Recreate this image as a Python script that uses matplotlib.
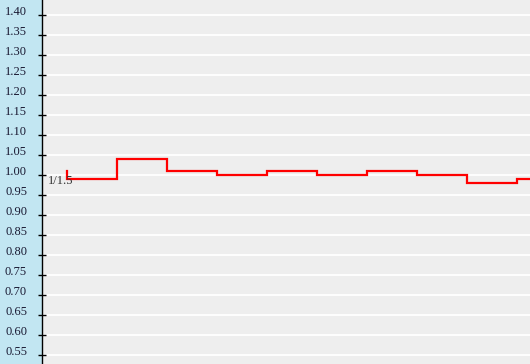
import matplotlib
matplotlib.use("Agg")
from matplotlib import pyplot as plt

# step values per period (first value is the starting level)
periods = [0, 1, 2, 3, 4, 5, 6, 7, 8, 9, 10]
ratios = [1.01, 0.99, 1.04, 1.01, 1.00, 1.01, 1.00, 1.01, 1.00, 0.98, 0.99]
ticks = [0.55, 0.60, 0.65, 0.70, 0.75, 0.80, 0.85, 0.90, 0.95, 1.00,
         1.05, 1.10, 1.15, 1.20, 1.25, 1.30, 1.35, 1.40]
label = "1/1.5"

W, H = 530, 364
fig = plt.figure(figsize=(W / 100, H / 100), dpi=100)
fig.patch.set_facecolor("#c2e6f2")

left = 41.5 / W
ax = fig.add_axes([left, 0, 1 - left, 1])
ax.set_facecolor("#eeeeee")

ax.plot(periods, ratios, drawstyle="steps-pre", color="red", linewidth=1.6,
        solid_joinstyle="miter", zorder=3)

ax.set_xlim(-0.51, 9.26)
ax.set_ylim(0.5283, 1.438)
ax.set_yticks(ticks)
ax.set_yticklabels(["%.2f" % t for t in ticks])
ax.set_xticks([])

for s in ["top", "right", "bottom"]:
    ax.spines[s].set_visible(False)
ax.spines["left"].set_color("black")
ax.spines["left"].set_linewidth(1.0)

ax.tick_params(axis="y", direction="inout", length=5.8, width=1.0, pad=7.5,
               labelsize=9, labelcolor="#1a1a33")
for t in ax.get_yticklabels():
    t.set_fontfamily("Liberation Serif")
    t.set_verticalalignment("baseline")

ax.yaxis.grid(True, color="white", linewidth=1.3)
ax.set_axisbelow(True)

ax.text(-0.38, 0.978, label, fontsize=9, family="Liberation Serif",
        color="#333333", ha="left", va="baseline", zorder=4)

fig.savefig("out.png", dpi=100, facecolor=fig.get_facecolor())
